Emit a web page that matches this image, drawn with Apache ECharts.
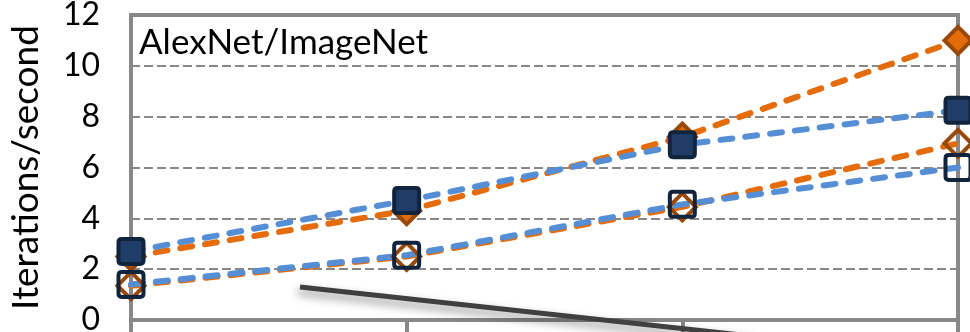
<!DOCTYPE html>
<html>
<head>
<meta charset="utf-8">
<style>
  html, body { margin: 0; padding: 0; background: #fff; }
  #chart { width: 970px; height: 332px; }
</style>
<script src="https://cdn.jsdelivr.net/npm/echarts@6/dist/echarts.min.js"></script>
</head>
<body>
<div id="chart"></div>
<script>
// Scaling steps along the x axis (labels not shown on this panel)
const categories = ['1', '2', '3', '4'];
const yTicks = [0, 2, 4, 6, 8, 10, 12];

// Iterations per second for each configuration
const orangeFilled = [2.5, 4.3, 7.2, 11.0];
const orangeHollow = [1.35, 2.5, 4.45, 6.95];
const blueFilled = [2.7, 4.7, 6.9, 8.25];
const blueHollow = [1.4, 2.55, 4.55, 6.0];

const ORANGE = '#E46C0A';
const ORANGE_DARK = '#984807';
const BLUE = '#558ED5';
const NAVY = '#10243E';
const NAVY_FILL = '#1F3D66';
const GRID_GRAY = '#888888';
const FONT = 'Lato, "Liberation Sans", sans-serif';

const dashLine = (color) => ({ color: color, width: 6, type: [12, 13], cap: 'round' });

const squarePath = 'path://M3,0 L19,0 Q22,0 22,3 L22,19 Q22,22 19,22 L3,22 Q0,22 0,19 L0,3 Q0,0 3,0 Z';

function series(name, data, color, symbol, fill, border, size) {
  return {
    name: name,
    type: 'line',
    data: data,
    symbol: symbol,
    symbolSize: size,
    lineStyle: dashLine(color),
    itemStyle: { color: fill, borderColor: border, borderWidth: 4 },
    emphasis: { disabled: true },
    z: 3
  };
}

const chart = echarts.init(document.getElementById('chart'), null, { renderer: 'canvas' });
chart.setOption({
  animation: false,
  grid: {
    left: 131, right: 12, top: 15, bottom: 12,
    containLabel: false,
    outerBoundsMode: 'none',
    show: true, borderColor: GRID_GRAY, borderWidth: 4, backgroundColor: 'transparent'
  },
  xAxis: {
    type: 'category',
    data: categories,
    boundaryGap: false,
    axisLine: { lineStyle: { color: GRID_GRAY, width: 4 } },
    axisTick: { show: true, length: 12, lineStyle: { color: GRID_GRAY, width: 4 } },
    axisLabel: { show: false },
    splitLine: { show: false }
  },
  yAxis: {
    type: 'value',
    min: yTicks[0],
    max: yTicks[yTicks.length - 1],
    interval: 2,
    name: 'Iterations/second',
    nameLocation: 'middle',
    nameGap: 86,
    nameTextStyle: { fontFamily: FONT, fontSize: 37, color: '#000' },
    axisLine: { show: true, lineStyle: { color: GRID_GRAY, width: 4 } },
    axisTick: { show: false },
    axisLabel: { fontFamily: FONT, fontSize: 32, color: '#000', margin: 31 },
    splitLine: { show: true, lineStyle: { color: GRID_GRAY, width: 2, type: [9, 4] } }
  },
  graphic: [
    {
      type: 'text',
      left: 139, top: 25,
      style: { text: 'AlexNet/ImageNet', font: '35px ' + FONT, fill: '#000' },
      z: 10
    },
    {
      type: 'line',
      shape: { x1: 300, y1: 287, x2: 760, y2: 337 },
      style: {
        stroke: '#404040', lineWidth: 5,
        shadowBlur: 10, shadowColor: 'rgba(0,0,0,0.45)', shadowOffsetX: -2, shadowOffsetY: 5
      },
      z: 10
    }
  ],
  series: [
    series('orange-filled', orangeFilled, ORANGE, 'diamond', ORANGE, ORANGE_DARK, 27),
    series('orange-hollow', orangeHollow, ORANGE, 'diamond', 'rgba(255,255,255,0)', ORANGE_DARK, 27),
    series('blue-filled', blueFilled, BLUE, squarePath, NAVY_FILL, NAVY, 25),
    series('blue-hollow', blueHollow, BLUE, squarePath, 'rgba(255,255,255,0)', NAVY, 25)
  ]
});
</script>
</body>
</html>
